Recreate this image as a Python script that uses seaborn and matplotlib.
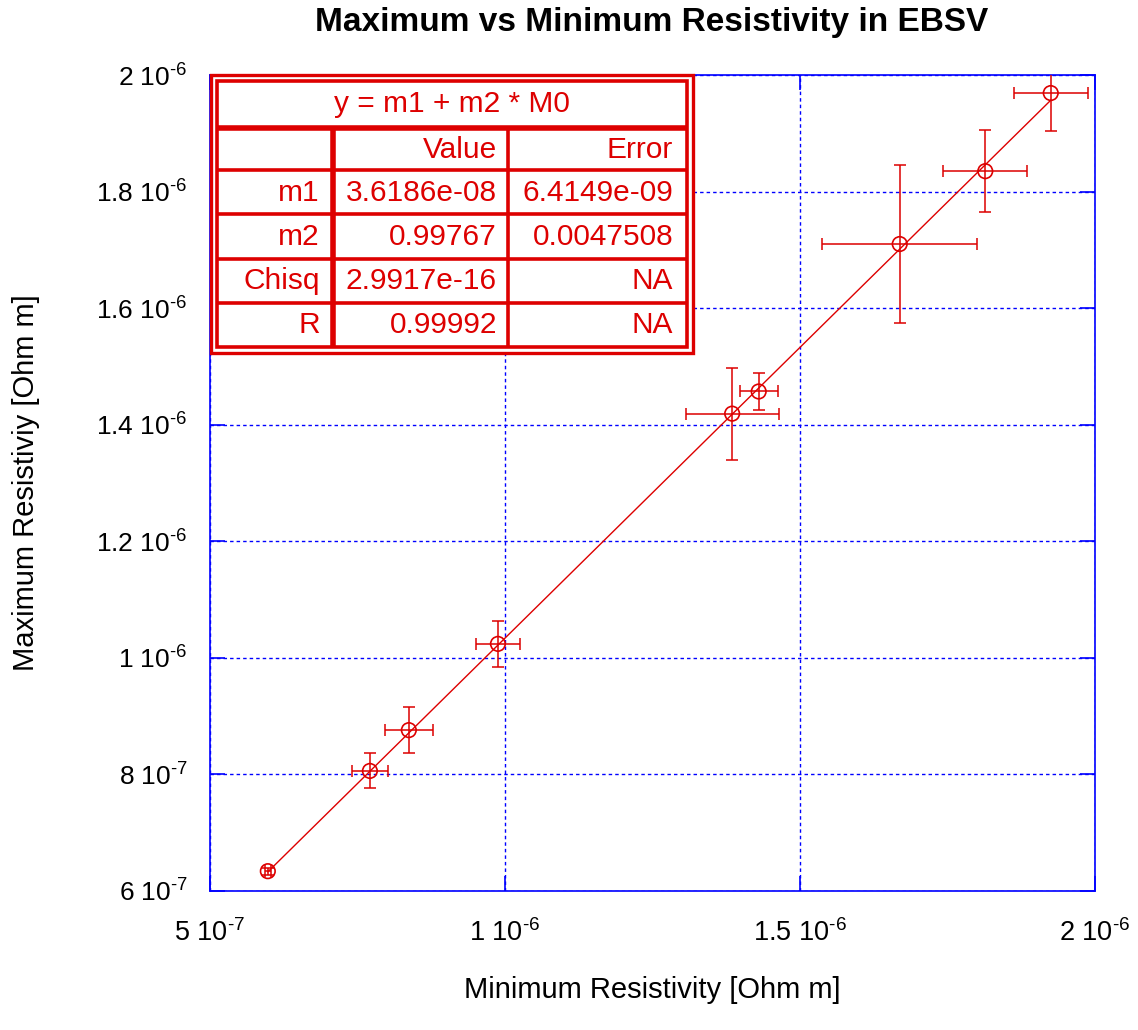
import matplotlib
matplotlib.use("Agg")
import matplotlib.pyplot as plt
import seaborn as sns
import pandas as pd
from matplotlib.patches import Rectangle
from matplotlib.lines import Line2D

# Measured resistivities [Ohm m] with their uncertainties
rho_min = [5.98e-7, 7.71e-7, 8.37e-7, 9.88e-7, 1.385e-6, 1.430e-6, 1.669e-6, 1.814e-6, 1.925e-6]
rho_max = [6.34e-7, 8.06e-7, 8.76e-7, 1.024e-6, 1.419e-6, 1.457e-6, 1.710e-6, 1.835e-6, 1.969e-6]
err_min = [5e-9, 3.0e-8, 4.1e-8, 3.7e-8, 7.9e-8, 3.2e-8, 1.31e-7, 7.1e-8, 6.3e-8]
err_max = [6e-9, 3.0e-8, 3.9e-8, 3.9e-8, 7.9e-8, 3.2e-8, 1.36e-7, 7.0e-8, 6.5e-8]

# Linear fit y = m1 + m2 * M0
fit_equation = "y = m1 + m2 * M0"
fit_params = ["m1", "m2", "Chisq", "R"]
fit_values = ["3.6186e-08", "0.99767", "2.9917e-16", "0.99992"]
fit_errors = ["6.4149e-09", "0.0047508", "NA", "NA"]
m1 = 3.6186e-08
m2 = 0.99767

# tick labels written as "mantissa 10^exp" with a plain hyphen in the exponent
x_ticks = [5e-7, 1e-6, 1.5e-6, 2e-6]
x_tick_labels = ["5 10$^{\u20107}$", "1 10$^{\u20106}$", "1.5 10$^{\u20106}$", "2 10$^{\u20106}$"]
y_ticks = [6e-7, 8e-7, 1e-6, 1.2e-6, 1.4e-6, 1.6e-6, 1.8e-6, 2e-6]
y_tick_labels = ["6 10$^{\u20107}$", "8 10$^{\u20107}$", "1 10$^{\u20106}$", "1.2 10$^{\u20106}$",
                 "1.4 10$^{\u20106}$", "1.6 10$^{\u20106}$", "1.8 10$^{\u20106}$", "2 10$^{\u20106}$"]

RED = "#dd0000"
BLUE = "#0000ff"

sns.set_theme(style="white")
plt.rcParams["font.family"] = ["Liberation Sans", "DejaVu Sans"]
plt.rcParams["mathtext.default"] = "regular"

W, H = 1138, 1030
fig = plt.figure(figsize=(W / 100, H / 100), dpi=100)
ax = fig.add_axes([210 / W, 1 - 891 / H, 885 / W, 816 / H])

df = pd.DataFrame({"rho_min": rho_min, "rho_max": rho_max})

# error bars
ax.errorbar(rho_min, rho_max, xerr=err_min, yerr=err_max, fmt="none",
            ecolor=RED, elinewidth=1.1, capsize=4, capthick=1.1, zorder=3)

# fitted line across the data range
x_fit = [min(rho_min), max(rho_min)]
fit_df = pd.DataFrame({"x": x_fit, "y": [m1 + m2 * v for v in x_fit]})
sns.lineplot(data=fit_df, x="x", y="y", ax=ax, color=RED, linewidth=1.0, zorder=4)

# hollow circle markers
sns.scatterplot(data=df, x="rho_min", y="rho_max", ax=ax, marker="o", s=110,
                facecolors="none", edgecolor=RED, linewidth=1.2, zorder=5)

ax.set_xlim(5e-7, 2e-6)
ax.set_ylim(6e-7, 2e-6)
ax.set_xticks(x_ticks)
ax.set_xticklabels(x_tick_labels)
ax.set_yticks(y_ticks)
ax.set_yticklabels(y_tick_labels)

ax.grid(True, color=BLUE, linestyle=(0, (2.5, 2.2)), linewidth=1.0)
for sp in ax.spines.values():
    sp.set_color(BLUE)
    sp.set_linewidth(1.2)
    sp.set_visible(True)

ax.tick_params(axis="both", which="major", direction="in", length=11, width=1.2,
               color=BLUE, labelsize=19, labelcolor="black",
               top=True, right=True, bottom=True, left=True)
ax.tick_params(axis="y", pad=16)
ax.tick_params(axis="x", pad=20, labelsize=19.5)

ax.set_xlabel("Minimum Resistivity [Ohm m]", fontsize=21, color="black")
ax.set_ylabel("Maximum Resistiviy [Ohm m]", fontsize=21, color="black")
ax.xaxis.set_label_coords(0.5, (891 - 976) / 816)
ax.yaxis.set_label_coords((40 - 210) / 885, 0.5)

fig.text(652 / W, 1 - 22 / H, "Maximum vs Minimum Resistivity in EBSV",
         ha="center", va="center", fontsize=24, fontweight="bold", color="black")


# fit results table, laid out in figure pixels
def fx(x):
    return x / W


def fy(y):
    return 1 - y / H


def hline(x0, x1, y, lw):
    fig.add_artist(Line2D([fx(x0), fx(x1)], [fy(y), fy(y)], color=RED, linewidth=lw,
                          transform=fig.transFigure, zorder=10, solid_capstyle="butt"))


def vline(x, y0, y1, lw):
    fig.add_artist(Line2D([fx(x), fx(x)], [fy(y0), fy(y1)], color=RED, linewidth=lw,
                          transform=fig.transFigure, zorder=10, solid_capstyle="butt"))


fig.add_artist(Rectangle((fx(211), fy(353)), (693 - 211) / W, (353 - 75) / H,
                         transform=fig.transFigure, facecolor="white",
                         edgecolor=RED, linewidth=2.4, zorder=9))
fig.add_artist(Rectangle((fx(217), fy(347)), (687 - 217) / W, (347 - 81) / H,
                         transform=fig.transFigure, facecolor="none",
                         edgecolor=RED, linewidth=2.6, zorder=10))

hline(217, 687, 128, 4.0)
for yy in [170, 214, 259, 303]:
    hline(217, 687, yy, 2.6)
vline(333, 128, 347, 4.0)
vline(508, 128, 347, 2.6)

fs_tab = 21.5
fig.text(fx(452), fy(104), fit_equation, ha="center", va="center",
         fontsize=fs_tab, color=RED, zorder=11)
fig.text(fx(497), fy(150), "Value", ha="right", va="center", fontsize=fs_tab, color=RED, zorder=11)
fig.text(fx(673), fy(150), "Error", ha="right", va="center", fontsize=fs_tab, color=RED, zorder=11)
row_y = [193, 237, 281, 325]
for yy, p, v, e in zip(row_y, fit_params, fit_values, fit_errors):
    fig.text(fx(320), fy(yy), p, ha="right", va="center", fontsize=fs_tab, color=RED, zorder=11)
    fig.text(fx(497), fy(yy), v, ha="right", va="center", fontsize=fs_tab, color=RED, zorder=11)
    fig.text(fx(673), fy(yy), e, ha="right", va="center", fontsize=fs_tab, color=RED, zorder=11)

fig.savefig("out.png", dpi=100)
